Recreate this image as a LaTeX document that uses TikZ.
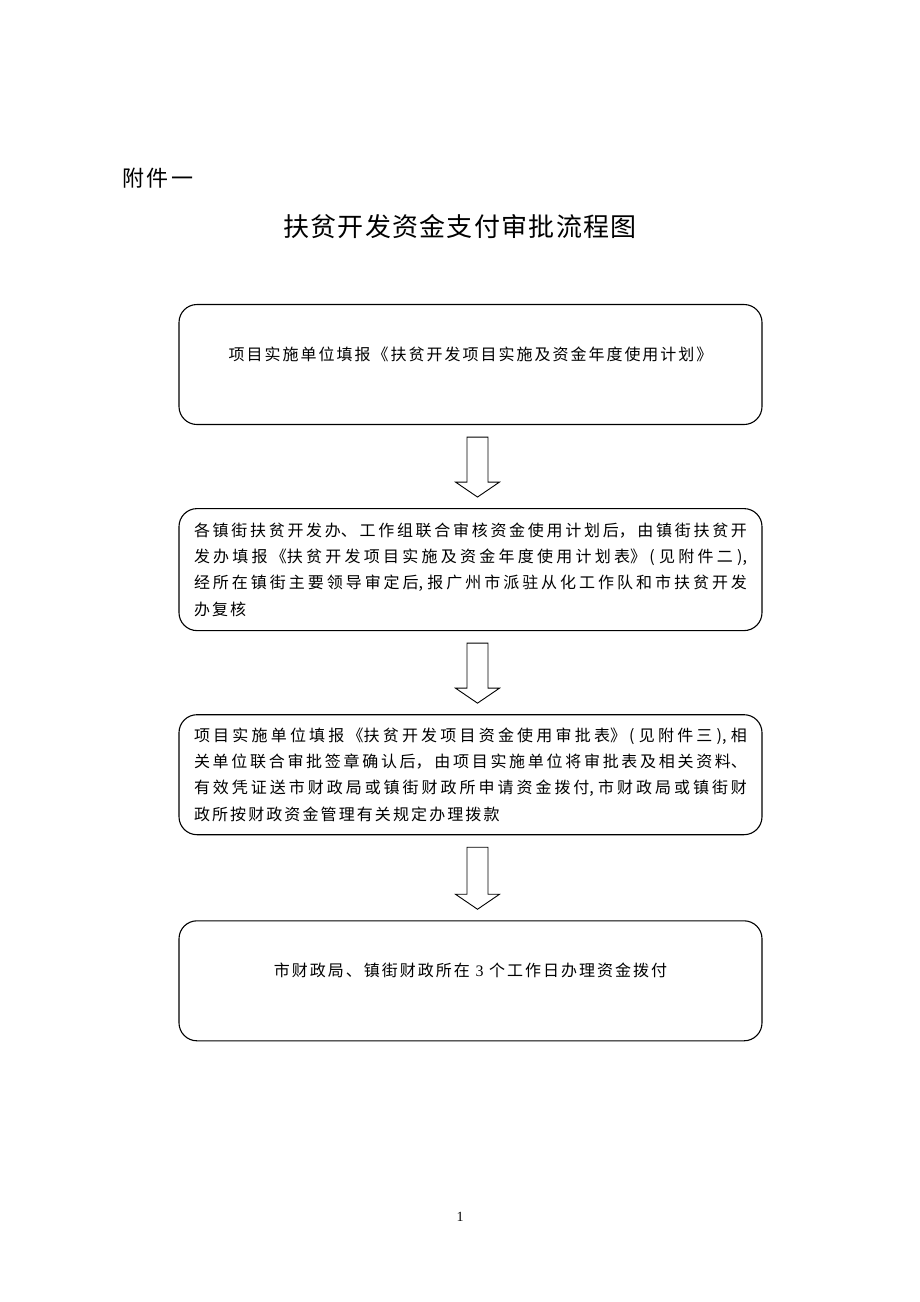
\documentclass[tikz,border=0pt]{standalone}
\usepackage{fontspec}
\setmainfont{Liberation Serif}
\newfontfamily\cjk[LetterSpace=12.5]{Noto Sans CJK SC}
\newfontfamily\cjkbody{Noto Sans CJK SC}
\newfontfamily\cjktitle[LetterSpace=5]{Noto Sans CJK SC}
\newfontfamily\cjkhead[LetterSpace=12]{Noto Sans CJK SC}
\newcommand\zhbreak{\XeTeXlinebreaklocale "zh"\XeTeXlinebreakskip=2.1pt plus 3pt\relax}
\usetikzlibrary{positioning}

\begin{document}
\begin{tikzpicture}[
    x = 1pt, y = -1pt,
    plain/.style={
        inner sep = 0pt
    },
    stepbox/.style={
        draw,
        rounded corners = 18pt,
        line width = 1.1pt,
        minimum width = 583pt,
        minimum height = 120pt,
        inner xsep = 15pt,
        font = \cjk\fontsize{16pt}{26.3pt}\selectfont
    },
    longbox/.style={
        stepbox,
        text width = 553pt,
        align = justify,
        font = \cjkbody\fontsize{16pt}{26.3pt}\selectfont\zhbreak
    },
    shortbox/.style={
        stepbox,
        text height = 13pt,
        text depth = 22pt
    },
    fatarrow/.style={
        line width = 0.9pt,
        to path={
            ([xshift=-10.5pt]\tikztostart) -- ([xshift=-10.5pt,yshift=15pt]\tikztotarget)
            -- ([xshift=-22pt,yshift=15pt]\tikztotarget) -- (\tikztotarget)
            -- ([xshift=22pt,yshift=15pt]\tikztotarget) -- ([xshift=10.5pt,yshift=15pt]\tikztotarget)
            -- ([xshift=10.5pt]\tikztostart) -- cycle
        }
    }
]

\useasboundingbox (0,0) rectangle (920,1302);

% headings
\node[plain, anchor=west, font=\cjkhead\fontsize{22pt}{26pt}\selectfont] (annex) at (122,178) {附件一};
\node[plain, font=\cjktitle\fontsize{26pt}{30pt}\selectfont] (title) at (460,227) {扶贫开发资金支付审批流程图};

% steps
\node[shortbox] (b1) at (470.5,364.5) {项目实施单位填报《扶贫开发项目实施及资金年度使用计划》};
\node[longbox, minimum height=122pt, below=83pt of b1] (b2) {各镇街扶贫开发办、工作组联合审核资金使用计划后，由镇街扶贫开\linebreak
发办填报《扶贫开发项目实施及资金年度使用计划表》( 见附件二 ),\linebreak
经所在镇街主要领导审定后, 报广州市派驻从化工作队和市扶贫开发\linebreak
办复核};
\node[longbox, below=83pt of b2] (b3) {项目实施单位填报《扶贫开发项目资金使用审批表》( 见附件三 ), 相\linebreak
关单位联合审批签章确认后，由项目实施单位将审批表及相关资料、\linebreak
有效凭证送市财政局或镇街财政所申请资金拨付, 市财政局或镇街财\linebreak
政所按财政资金管理有关规定办理拨款};
\node[shortbox, below=85pt of b3] (b4) {市财政局、镇街财政所在 {\rmfamily 3} 个工作日办理资金拨付};

\foreach \i/\j in {1/2,2/3,3/4}
{
    \coordinate (top\i) at ([xshift=7pt,yshift=-12pt]b\i.south);
    \coordinate (tip\i) at ([xshift=7pt,yshift=11pt]b\j.north);
    \draw[fatarrow] (top\i) to (tip\i);
}

\node[plain, font=\fontsize{14pt}{16pt}\selectfont] (page) at (460,1217) {1};

\end{tikzpicture}
\end{document}
